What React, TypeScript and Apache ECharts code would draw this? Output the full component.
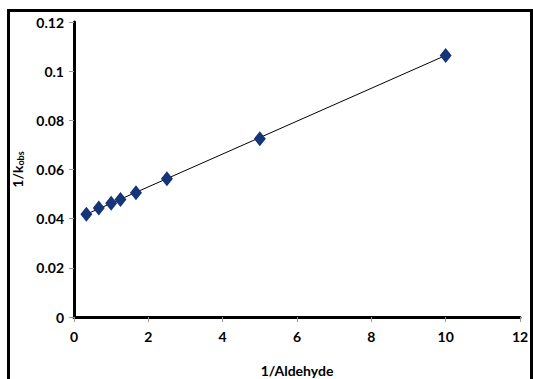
import React, { useEffect, useRef } from "react";
import * as echarts from "echarts";

const xValues = [0.333, 0.667, 1, 1.25, 1.667, 2.5, 5, 10];
const yValues = [0.0418, 0.0443, 0.0463, 0.0478, 0.0505, 0.0562, 0.0725, 0.1064];
const trendX = [0.333, 10];
const trendY = [0.0418, 0.1064];
const xTicks = [0, 2, 4, 6, 8, 10, 12];
const yTicks = [0, 0.02, 0.04, 0.06, 0.08, 0.1, 0.12];

const FONT = "Lato";

export default function App() {
  const ref = useRef<HTMLDivElement>(null);
  useEffect(() => {
    if (!ref.current) return;
    const chart = echarts.init(ref.current, null, { renderer: "svg" });
    const points = xValues.map((x, i) => [x, yValues[i]]);
    const trend = trendX.map((x, i) => [x, trendY[i]]);
    chart.setOption({
      animation: false,
      backgroundColor: "#ffffff",
      grid: { left: 74, top: 22, right: 13, bottom: 62, containLabel: false, outerBoundsMode: "none" },
      graphic: [
        {
          type: "rect",
          shape: { x: 8.5, y: 10.5, width: 523, height: 390 },
          style: { fill: "none", stroke: "#000", lineWidth: 3 },
          silent: true,
        },
      ],
      xAxis: {
        type: "value",
        min: xTicks[0],
        max: xTicks[xTicks.length - 1],
        interval: 2,
        name: "1/Aldehyde",
        nameLocation: "middle",
        nameGap: 46,
        nameTextStyle: { fontFamily: FONT, fontWeight: "bold", fontSize: 14, color: "#000" },
        axisLine: { show: true, onZero: false, lineStyle: { color: "#000", width: 3 } },
        axisTick: { show: true, length: 5, lineStyle: { color: "#999", width: 1 } },
        axisLabel: { fontFamily: FONT, fontWeight: "bold", fontSize: 14, color: "#000", margin: 12 },
        splitLine: { show: false },
      },
      yAxis: {
        type: "value",
        min: yTicks[0],
        max: yTicks[yTicks.length - 1],
        interval: 0.02,
        name: "{a|1/k}{b|obs}",
        nameLocation: "middle",
        nameGap: 44,
        nameRotate: 90,
        nameTextStyle: {
          rich: {
            a: { fontFamily: FONT, fontWeight: "bold", fontSize: 14, color: "#000" },
            b: { fontFamily: FONT, fontWeight: "bold", fontSize: 9, color: "#000", verticalAlign: "bottom", padding: [6, 0, 0, 0] },
          },
        },
        axisLine: { show: true, onZero: false, lineStyle: { color: "#000", width: 3 } },
        axisTick: { show: true, length: 5, lineStyle: { color: "#999", width: 1 } },
        axisLabel: {
          fontFamily: FONT,
          fontWeight: "bold",
          fontSize: 14,
          color: "#000",
          margin: 10,
          formatter: (v: number) => String(parseFloat(v.toFixed(2))),
        },
        splitLine: { show: false },
      },
      series: [
        {
          type: "line",
          data: trend,
          showSymbol: false,
          symbol: "none",
          lineStyle: { color: "#000", width: 1 },
          z: 1,
        },
        {
          type: "scatter",
          data: points,
          symbol: "diamond",
          symbolSize: [12, 15],
          itemStyle: { color: "#163478", opacity: 1 },
          z: 2,
        },
      ],
    });
    return () => chart.dispose();
  }, []);
  return (
    <div
      ref={ref}
      style={{ position: "absolute", left: 0, top: 0, width: 533, height: 379 }}
    />
  );
}
